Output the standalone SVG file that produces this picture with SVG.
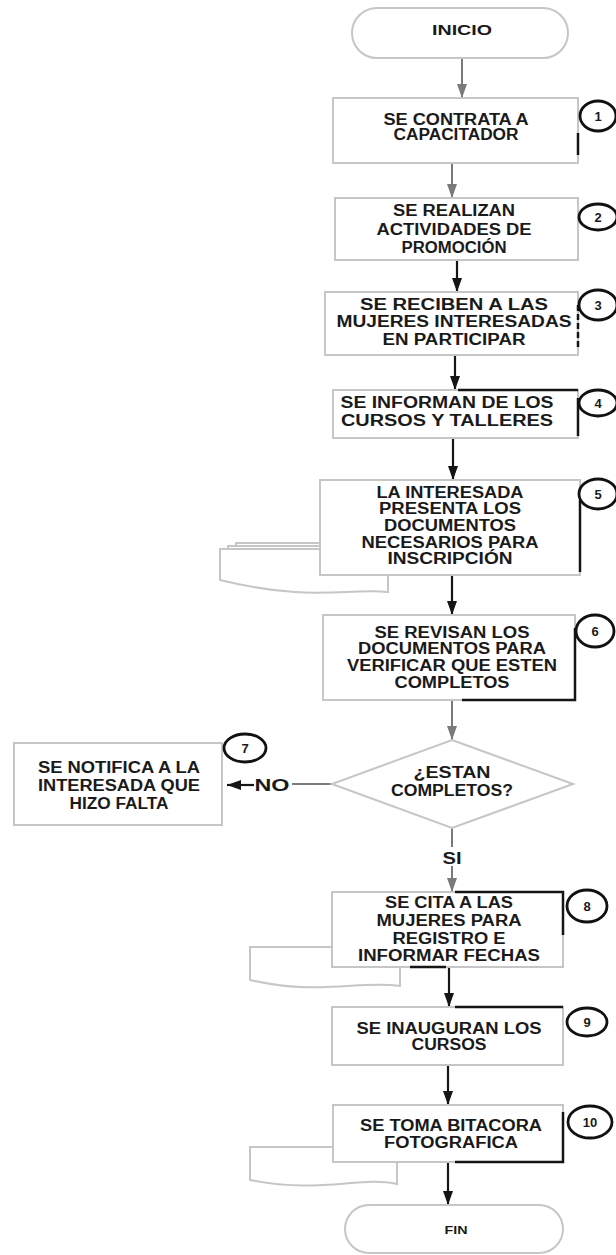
<svg xmlns="http://www.w3.org/2000/svg" width="616" height="1255" viewBox="0 0 616 1255">
<style>
.box{fill:#fff;stroke:#c6c6c6;stroke-width:2}
.doc{fill:#fff;stroke:#c6c6c6;stroke-width:2}
.edge{fill:none;stroke:#151515;stroke-width:2.5}
.num{fill:#fff;stroke:#111;stroke-width:2.8}
.t{font-family:"Liberation Sans",Arial,sans-serif;font-weight:bold;font-size:16px;fill:#1a1a1a;text-anchor:middle}
.n{font-size:13px}
.cg{fill:none;stroke:#7a7a7a;stroke-width:2}
.cb{fill:none;stroke:#151515;stroke-width:2.2}
</style>
<defs>
<marker id="ag" viewBox="0 0 14 10" refX="14" refY="5" markerWidth="14" markerHeight="10" markerUnits="userSpaceOnUse" orient="auto"><path d="M0,0 L14,5 L0,10 z" fill="#7a7a7a"/></marker>
<marker id="ab" viewBox="0 0 14 10" refX="14" refY="5" markerWidth="14" markerHeight="10" markerUnits="userSpaceOnUse" orient="auto"><path d="M0,0 L14,5 L0,10 z" fill="#151515"/></marker>
</defs>

<g id="connectors">
<line class="cg" x1="462" y1="58" x2="462" y2="98" marker-end="url(#ag)"/>
<line class="cg" x1="452" y1="163" x2="452" y2="198" marker-end="url(#ag)"/>
<line class="cb" x1="457" y1="260" x2="457" y2="292" marker-end="url(#ab)"/>
<line class="cb" x1="455" y1="355" x2="455" y2="390" marker-end="url(#ab)"/>
<line class="cb" x1="453" y1="438" x2="453" y2="480" marker-end="url(#ab)"/>
<line class="cb" x1="452" y1="575" x2="452" y2="615" marker-end="url(#ab)"/>
<line class="cg" x1="452" y1="700" x2="452" y2="740" marker-end="url(#ag)"/>
<line class="cg" x1="332" y1="784" x2="292" y2="784"/>
<line class="cb" x1="254" y1="785" x2="227" y2="785" marker-end="url(#ab)"/>
<line class="cg" x1="452" y1="828" x2="452" y2="847"/>
<line class="cg" x1="452" y1="866" x2="452" y2="892" marker-end="url(#ag)"/>
<line class="cb" x1="449" y1="967" x2="449" y2="1007" marker-end="url(#ab)"/>
<line class="cb" x1="448" y1="1065" x2="448" y2="1105" marker-end="url(#ab)"/>
<line class="cb" x1="448" y1="1162" x2="448" y2="1205" marker-end="url(#ab)"/>
<text class="t" x="272" y="791" textLength="35" lengthAdjust="spacingAndGlyphs">NO</text>
<text class="t" x="452" y="864" textLength="19" lengthAdjust="spacingAndGlyphs">SI</text>
</g>

<g id="inicio">
<rect class="box" x="352" y="8" width="216" height="50" rx="25"/>
<text class="t" x="462" y="35" style="font-size:14px" textLength="60" lengthAdjust="spacingAndGlyphs">INICIO</text>
</g>

<g id="paso1">
<rect class="box" x="333" y="98" width="245" height="65"/>
<path class="edge" d="M578,133 V155"/>
<text class="t" x="456" y="125" textLength="145" lengthAdjust="spacingAndGlyphs">SE CONTRATA A</text>
<text class="t" x="456" y="140" textLength="125" lengthAdjust="spacingAndGlyphs">CAPACITADOR</text>
<ellipse class="num" cx="598" cy="116" rx="18" ry="15"/>
<text class="t n" x="598" y="121">1</text>
</g>

<g id="paso2">
<rect class="box" x="335" y="198" width="243" height="62"/>
<text class="t" x="454" y="216" textLength="122" lengthAdjust="spacingAndGlyphs">SE REALIZAN</text>
<text class="t" x="454" y="235" textLength="155" lengthAdjust="spacingAndGlyphs">ACTIVIDADES DE</text>
<text class="t" x="454" y="253" textLength="105" lengthAdjust="spacingAndGlyphs">PROMOCIÓN</text>
<ellipse class="num" cx="598" cy="217" rx="19" ry="13"/>
<text class="t n" x="598" y="222">2</text>
</g>

<g id="paso3">
<rect class="box" x="325" y="292" width="253" height="63"/>
<path class="edge" d="M578,305 V350" stroke-dasharray="6 3"/>
<text class="t" x="454" y="310" textLength="188" lengthAdjust="spacingAndGlyphs">SE RECIBEN A LAS</text>
<text class="t" x="454" y="327" textLength="235" lengthAdjust="spacingAndGlyphs">MUJERES INTERESADAS</text>
<text class="t" x="454" y="345" textLength="143" lengthAdjust="spacingAndGlyphs">EN PARTICIPAR</text>
<ellipse class="num" cx="598" cy="305" rx="19" ry="15"/>
<text class="t n" x="598" y="310">3</text>
</g>

<g id="paso4">
<rect class="box" x="333" y="390" width="245" height="48"/>
<path class="edge" d="M458,390 H578 M578,398 V436"/>
<text class="t" x="447" y="408" textLength="213" lengthAdjust="spacingAndGlyphs">SE INFORMAN DE LOS</text>
<text class="t" x="447" y="426" textLength="212" lengthAdjust="spacingAndGlyphs">CURSOS Y TALLERES</text>
<ellipse class="num" cx="598" cy="403" rx="19" ry="13"/>
<text class="t n" x="598" y="408">4</text>
</g>

<g id="paso5">
<path class="doc" d="M236,543 H388 V586 C350,582 320,596 236,578 Z"/>
<path class="doc" d="M228,546 H388 V589 C350,585 320,598 228,579 Z"/>
<path class="doc" d="M220,549 H388 V592 C345,588 310,602 220,580 Z"/>
<rect class="box" x="320" y="480" width="260" height="95"/>
<path class="edge" d="M580,500 V572"/>
<text class="t" x="450" y="498" textLength="147" lengthAdjust="spacingAndGlyphs">LA INTERESADA</text>
<text class="t" x="450" y="514" textLength="142" lengthAdjust="spacingAndGlyphs">PRESENTA LOS</text>
<text class="t" x="450" y="531" textLength="132" lengthAdjust="spacingAndGlyphs">DOCUMENTOS</text>
<text class="t" x="450" y="548" textLength="177" lengthAdjust="spacingAndGlyphs">NECESARIOS PARA</text>
<text class="t" x="450" y="564" textLength="125" lengthAdjust="spacingAndGlyphs">INSCRIPCIÓN</text>
<ellipse class="num" cx="598" cy="494" rx="19" ry="15"/>
<text class="t n" x="598" y="499">5</text>
</g>

<g id="paso6">
<rect class="box" x="323" y="615" width="252" height="85"/>
<path class="edge" d="M575,628 V700 H462"/>
<text class="t" x="452" y="638" textLength="155" lengthAdjust="spacingAndGlyphs">SE REVISAN LOS</text>
<text class="t" x="452" y="654" textLength="188" lengthAdjust="spacingAndGlyphs">DOCUMENTOS PARA</text>
<text class="t" x="452" y="671" textLength="210" lengthAdjust="spacingAndGlyphs">VERIFICAR QUE ESTEN</text>
<text class="t" x="452" y="688" textLength="115" lengthAdjust="spacingAndGlyphs">COMPLETOS</text>
<ellipse class="num" cx="595" cy="631" rx="19" ry="16"/>
<text class="t n" x="595" y="636">6</text>
</g>

<g id="decision">
<polygon class="box" points="452,740 573,784 452,828 332,784"/>
<text class="t" x="452" y="778" textLength="77" lengthAdjust="spacingAndGlyphs">¿ESTAN</text>
<text class="t" x="452" y="796" textLength="122" lengthAdjust="spacingAndGlyphs">COMPLETOS?</text>
</g>

<g id="paso7">
<rect class="box" x="14" y="743" width="208" height="82"/>
<text class="t" x="119" y="773" textLength="162" lengthAdjust="spacingAndGlyphs">SE NOTIFICA A LA</text>
<text class="t" x="119" y="791" textLength="162" lengthAdjust="spacingAndGlyphs">INTERESADA QUE</text>
<text class="t" x="119" y="809" textLength="99" lengthAdjust="spacingAndGlyphs">HIZO FALTA</text>
<ellipse class="num" cx="245" cy="748" rx="21" ry="14"/>
<text class="t n" x="245" y="753">7</text>
</g>

<g id="paso8">
<path class="doc" d="M250,947 H400 V986 C360,980 320,996 250,980 Z"/>
<rect class="box" x="332" y="892" width="231" height="75"/>
<path class="edge" d="M455,892 H563 V935 M410,967 H446"/>
<text class="t" x="449" y="908" textLength="128" lengthAdjust="spacingAndGlyphs">SE CITA A LAS</text>
<text class="t" x="449" y="926" textLength="145" lengthAdjust="spacingAndGlyphs">MUJERES PARA</text>
<text class="t" x="449" y="944" textLength="113" lengthAdjust="spacingAndGlyphs">REGISTRO E</text>
<text class="t" x="449" y="961" textLength="182" lengthAdjust="spacingAndGlyphs">INFORMAR FECHAS</text>
<ellipse class="num" cx="587" cy="906" rx="20" ry="16"/>
<text class="t n" x="587" y="911">8</text>
</g>

<g id="paso9">
<rect class="box" x="332" y="1007" width="231" height="58"/>
<path class="edge" d="M455,1007 H563"/>
<text class="t" x="449" y="1034" textLength="185" lengthAdjust="spacingAndGlyphs">SE INAUGURAN LOS</text>
<text class="t" x="449" y="1050" textLength="75" lengthAdjust="spacingAndGlyphs">CURSOS</text>
<ellipse class="num" cx="587" cy="1022" rx="20" ry="14"/>
<text class="t n" x="587" y="1027">9</text>
</g>

<g id="paso10">
<path class="doc" d="M250,1147 H397 V1184 C360,1176 320,1194 250,1180 Z"/>
<rect class="box" x="333" y="1105" width="230" height="57"/>
<path class="edge" d="M563,1112 V1162 H455"/>
<text class="t" x="451" y="1131" textLength="182" lengthAdjust="spacingAndGlyphs">SE TOMA BITACORA</text>
<text class="t" x="451" y="1148" textLength="134" lengthAdjust="spacingAndGlyphs">FOTOGRAFICA</text>
<ellipse class="num" cx="590" cy="1122" rx="22" ry="16"/>
<text class="t n" x="590" y="1127">10</text>
</g>

<g id="fin">
<rect class="box" x="345" y="1205" width="218" height="48" rx="24"/>
<text class="t" x="456" y="1234" style="font-size:10px" textLength="23" lengthAdjust="spacingAndGlyphs">FIN</text>
</g>
</svg>
